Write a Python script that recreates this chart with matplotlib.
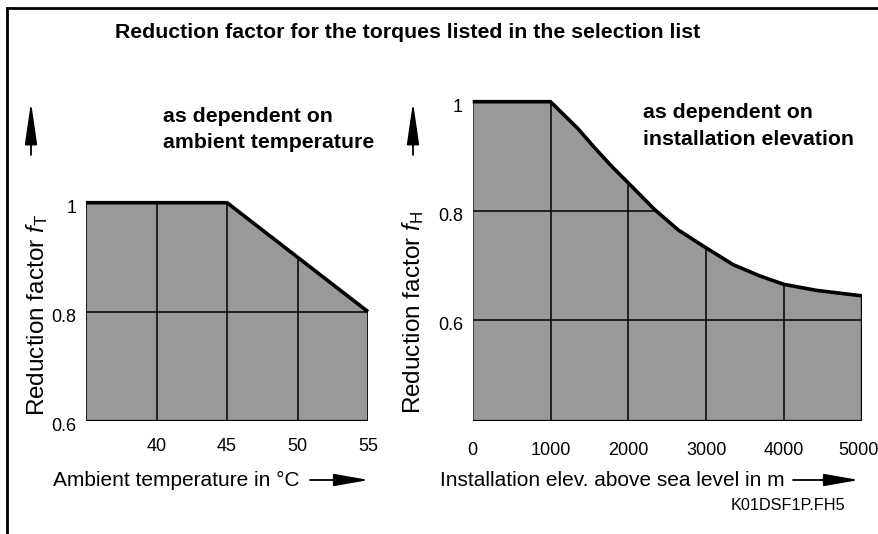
import matplotlib
matplotlib.use('Agg')
import matplotlib.pyplot as plt
from matplotlib.patches import Polygon, FancyArrowPatch
from matplotlib.transforms import ScaledTranslation
from matplotlib import font_manager
import numpy as np

# data
temp_c = [35, 45, 55]
f_temp = [1.0, 1.0, 0.8]
temp_ticks = [40, 45, 50, 55]

elev_m = [0, 1000, 1350, 1570, 1790, 2000, 2340, 2640, 2900, 3000, 3350, 3700, 4000, 4420, 5000]
f_elev = [1.0, 1.0, 0.951, 0.915, 0.881, 0.851, 0.802, 0.765, 0.741, 0.732, 0.701, 0.680, 0.665, 0.654, 0.644]
elev_ticks = [0, 1000, 2000, 3000, 4000, 5000]

W, H = 879, 534
names = {f.name for f in font_manager.fontManager.ttflist}
SANS = 'Liberation Sans' if 'Liberation Sans' in names else 'DejaVu Sans'
plt.rcParams['font.family'] = SANS
plt.rcParams['mathtext.fontset'] = 'custom'
plt.rcParams['mathtext.it'] = SANS + ':italic'
plt.rcParams['mathtext.rm'] = SANS

fig = plt.figure(figsize=(W / 100, H / 100), dpi=100)


def fx(x):
    return x / W


def fy(y):
    return 1 - y / H


def shift(artist, dx, dy):
    # move an artist by a few pixels
    artist.set_transform(artist.get_transform() + ScaledTranslation(dx / 100, -dy / 100, fig.dpi_scale_trans))


def make_panel(rect, xs, ys, xlim, ylim, xgrid, ygrid, xticks, yticks, ytlabels, xpad):
    ax = fig.add_axes(rect)
    ax.set_xlim(*xlim)
    ax.set_ylim(*ylim)
    for s in ax.spines.values():
        s.set_visible(False)
    verts = np.column_stack([np.r_[xs, xs[-1], xs[0]], np.r_[ys, ylim[0], ylim[0]]])
    patch = Polygon(verts, closed=True, facecolor='#999999', edgecolor='black', lw=1.2, zorder=1)
    ax.add_patch(patch)
    for g in xgrid:
        ln, = ax.plot([g, g], [ylim[0], 1.2], color='black', lw=1.1, zorder=2)
        ln.set_clip_path(patch)
    for g in ygrid:
        ln, = ax.plot([xlim[0], xlim[1]], [g, g], color='black', lw=1.1, zorder=2)
        ln.set_clip_path(patch)
    ax.plot(xs, ys, color='black', lw=2.6, zorder=3, clip_on=False, solid_capstyle='butt')
    ax.set_xticks(xticks)
    ax.set_xticklabels([str(t) for t in xticks], fontsize=13)
    ax.set_yticks(yticks)
    ax.set_yticklabels(ytlabels, fontsize=13)
    ax.tick_params(axis='x', length=0, pad=xpad)
    ax.tick_params(axis='y', length=0, pad=7)
    for lab in ax.get_yticklabels():
        shift(lab, 0, 4)
    return ax


ax1 = make_panel([fx(86), fy(420.7), fx(368 - 86), (420.7 - 202.7) / H],
                 temp_c, f_temp, (35, 55), (0.6, 1.0),
                 [40, 45, 50], [0.8], temp_ticks, [0.6, 0.8, 1.0], ['0.6', '0.8', '1'], 12.5)
ax2 = make_panel([fx(472.7), fy(420.7), fx(861.7 - 472.7), (420.7 - 101.7) / H],
                 elev_m, f_elev, (0, 5000), (0.415, 1.0),
                 [1000, 2000, 3000, 4000], [0.6, 0.8], elev_ticks, [0.6, 0.8, 1.0], ['0.6', '0.8', '1'], 15.5)
shift(ax2.get_xticklabels()[-1], -3, 0)

# frame lines (top and left)
fig.add_artist(plt.Line2D([fx(7), fx(W)], [fy(8), fy(8)], color='black', lw=2))
fig.add_artist(plt.Line2D([fx(7), fx(7)], [fy(8), fy(H)], color='black', lw=2))

fig.text(fx(408), fy(33), 'Reduction factor for the torques listed in the selection list',
         ha='center', va='center', fontsize=15.3, fontweight='bold')
fig.text(fx(163), fy(117), 'as dependent on', ha='left', va='center', fontsize=15.3, fontweight='bold')
fig.text(fx(163), fy(142), 'ambient temperature', ha='left', va='center', fontsize=15.3, fontweight='bold')
fig.text(fx(643), fy(113), 'as dependent on', ha='left', va='center', fontsize=15.3, fontweight='bold')
fig.text(fx(643), fy(139), 'installation elevation', ha='left', va='center', fontsize=15.3, fontweight='bold')

fig.text(fx(37), fy(315), 'Reduction factor $\\mathit{f}_{\\mathrm{T}}$', rotation=90,
         ha='center', va='center', fontsize=17.5)
fig.text(fx(413), fy(313), 'Reduction factor $\\mathit{f}_{\\mathrm{H}}$', rotation=90,
         ha='center', va='center', fontsize=17.5)

fig.text(fx(53), fy(480), 'Ambient temperature in °C', ha='left', va='center', fontsize=15)
fig.text(fx(440), fy(480), 'Installation elev. above sea level in m', ha='left', va='center', fontsize=15)
fig.text(fx(845), fy(505), 'K01DSF1P.FH5', ha='right', va='center', fontsize=11.7)


def arrow(x0, y0, x1, y1, hl, hw):
    fig.add_artist(FancyArrowPatch(
        (fx(x0), fy(y0)), (fx(x1), fy(y1)), transform=fig.transFigure,
        arrowstyle=f'-|>,head_length={hl},head_width={hw}', mutation_scale=9,
        color='black', lw=1.3, shrinkA=0, shrinkB=0))


arrow(31, 155, 31, 102, 2.9, 0.42)
arrow(413, 155, 413, 102, 2.9, 0.42)
arrow(310, 480, 369, 480, 2.4, 0.42)
arrow(793, 480, 859, 480, 2.4, 0.42)

fig.savefig('out.png', dpi=100)
